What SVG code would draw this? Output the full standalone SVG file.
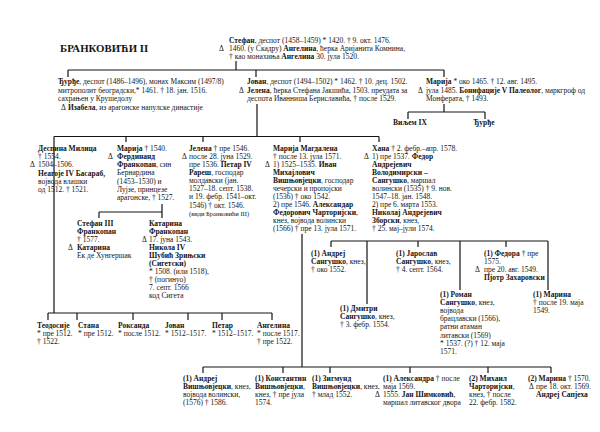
<svg xmlns="http://www.w3.org/2000/svg" width="600" height="432" viewBox="0 0 600 432">
<style>
text{font-family:"Liberation Serif","Times New Roman",serif;font-size:7.5px;fill:#141414}
.b{font-weight:bold}
.title{font-size:10.8px;font-weight:bold}
.sm{font-size:6.5px}
.c path{fill:none;stroke:#141414;stroke-width:1.2}
</style>
<rect width="600" height="432" fill="#fff"/>
<text class="title" x="60" y="52">БРАНКОВИЋИ II</text>

<g class="c" id="connectors">
<path d="M236,61V70M68,70H444M68,70V77M256,70V77M444,70V77"/>
<path d="M444,104V112M408,112H485M408,112V119M485,112V119"/>
<path d="M257,104V136.5M54,136.5H379M54,136.5V313M126,136.5V142M203,136.5V142M300,136.5V142M379,136.5V142"/>
<path d="M162,204V218M99,212H162M99,212V218"/>
<path d="M48,313H272M48,313V320M77,313V320M133,313V320M188,313V320M222,313V320M272,313V320"/>
<path d="M331,241H548M331,241V247M367,241V304M418,241V247M460,241V290M506,241V247M548,241V290"/>
<path d="M302,234V367M203,367H551M203,367V373M283,367V373M330,367V373M410,367V373M488,367V373M551,367V373"/>
</g>

<g id="n-stefan">
<text x="229" y="43"><tspan class="b">Стефан</tspan>, деспот (1458–1459) * 1420. † 9. окт. 1476.</text>
<text x="219" y="51">Δ</text>
<text x="229" y="51">1460. (у Скадру) <tspan class="b">Ангелина</tspan>, ћерка Аријанита Комнина,</text>
<text x="229" y="59">† као монахиња <tspan class="b">Ангелина</tspan> 30. јула 1520.</text>
</g>

<g id="n-djuradj">
<text x="58" y="84"><tspan class="b">Ђурђе</tspan>, деспот (1486–1496), монах Максим (1497/8)</text>
<text x="58" y="93">митрополит београдски,* 1461. † 18. јан. 1516.</text>
<text x="58" y="101">сахрањен у Крушедолу</text>
<text x="61" y="110">Δ</text>
<text x="68" y="110"><tspan class="b">Изабела</tspan>, из арагонске напулске династије</text>
</g>

<g id="n-jovan">
<text x="247" y="84"><tspan class="b">Јован</tspan>, деспот (1494–1502) * 1462. † 10. дец. 1502.</text>
<text x="239" y="93">Δ</text>
<text x="247" y="93"><tspan class="b">Јелена</tspan>, ћерка Стефана Јакшића, 1503. преудата за</text>
<text x="247" y="101">деспота Иванниша Бериславића, † после 1529.</text>
</g>

<g id="n-marija1">
<text x="426" y="84"><tspan class="b">Марија</tspan> * око 1465. † 12. авг. 1495.</text>
<text x="418" y="93">Δ</text>
<text x="426" y="93">јула 1485. <tspan class="b">Бонифације V Палеолог</tspan>, маркгроф од</text>
<text x="426" y="101">Монферата, † 1493.</text>
</g>

<g id="n-viljem"><text class="b" x="410" y="125" text-anchor="middle">Виљем IX</text></g>
<g id="n-djuradj2"><text class="b" x="484" y="125" text-anchor="middle">Ђурђе</text></g>

<g id="n-milica">
<text x="38" y="151" class="b">Деспина Милица</text>
<text x="38" y="159.2">† 1554.</text>
<text x="30" y="167.4">Δ</text>
<text x="38" y="167.4">1504–1506.</text>
<text x="38" y="175.6" class="b">Неагоје IV Басараб,</text>
<text x="38" y="183.8">војвода влашки</text>
<text x="38" y="192">од 1512. † 1521.</text>
</g>

<g id="n-marija2">
<text x="117" y="151"><tspan class="b">Марија</tspan> † 1540.</text>
<text x="108" y="159">Δ</text>
<text x="117" y="159" class="b">Фердинанд</text>
<text x="117" y="167"><tspan class="b">Франкопан</tspan>, син</text>
<text x="117" y="175">Бернардина</text>
<text x="117" y="184">(1453–1530) и</text>
<text x="117" y="192">Лујзе, принцезе</text>
<text x="117" y="200">арагонске, † 1527.</text>
</g>

<g id="n-stefan3">
<text x="77" y="226" class="b">Стефан III</text>
<text x="77" y="234" class="b">Франкопан</text>
<text x="77" y="242">† 1577.</text>
<text x="68" y="250">Δ</text>
<text x="77" y="250" class="b">Катарина</text>
<text x="77" y="258">Ек де Хунгершак</text>
</g>

<g id="n-katarina">
<text x="149" y="226" class="b">Катарина</text>
<text x="149" y="234" class="b">Франкопан</text>
<text x="142" y="242">Δ</text>
<text x="149" y="242">17. јуна 1543.</text>
<text x="149" y="249.5" class="b">Никола IV</text>
<text x="149" y="257.5" class="b">Шубић Зрињски</text>
<text x="149" y="265.5" class="b">(Сигетски)</text>
<text x="149" y="273.7">* 1508. (или 1518),</text>
<text x="149" y="281.9">† (погинуо)</text>
<text x="149" y="290.1">7. септ. 1566</text>
<text x="149" y="298.3">код Сигета</text>
</g>

<g id="n-jelena">
<text x="189" y="151"><tspan class="b">Јелена</tspan> † пре 1546.</text>
<text x="182" y="159">Δ</text>
<text x="189" y="159">после 28. јуна 1529.</text>
<text x="189" y="167">пре 1536. <tspan class="b">Петар IV</tspan></text>
<text x="189" y="175"><tspan class="b">Рареш</tspan>, господар</text>
<text x="189" y="183">молдавски (јан.</text>
<text x="189" y="191.3">1527–18. септ. 1538.</text>
<text x="189" y="199.4">и 19. фебр. 1541–окт.</text>
<text x="189" y="207.5">1546) † окт. 1546.</text>
<text x="189" y="215.5" class="sm">(види Бранковићи III)</text>
</g>

<g id="n-magdalena">
<text x="273" y="151" class="b">Марија Магдалена</text>
<text x="273" y="159">† после 13. јула 1571.</text>
<text x="265" y="167">Δ</text>
<text x="273" y="167">1) 1525–1535. <tspan class="b">Иван</tspan></text>
<text x="273" y="175" class="b">Михајлович</text>
<text x="273" y="183"><tspan class="b">Вишњовјецки</tspan>, господар</text>
<text x="273" y="191">чечерски и пропојски</text>
<text x="273" y="199">(1536) † око 1542.</text>
<text x="273" y="207">2) пре 1546. <tspan class="b">Александар</tspan></text>
<text x="273" y="215"><tspan class="b">Федорович Чарторијски</tspan>,</text>
<text x="273" y="223">кнез, војвода волински</text>
<text x="273" y="231">(1566) † пре 13. јула 1571.</text>
</g>

<g id="n-hana">
<text x="372" y="151"><tspan class="b">Хана</tspan> † 2. фебр.–апр. 1578.</text>
<text x="364" y="159">Δ</text>
<text x="372" y="159">1) пре 1537. <tspan class="b">Федор</tspan></text>
<text x="372" y="167" class="b">Андрејевич</text>
<text x="372" y="175" class="b">Володимирски –</text>
<text x="372" y="183"><tspan class="b">Сангушко</tspan>, маршал</text>
<text x="372" y="191">волински (1535) † 9. нов.</text>
<text x="372" y="199">1547–18. јан. 1548.</text>
<text x="372" y="207">2) пре 6. марта 1553.</text>
<text x="372" y="215" class="b">Николај Андрејевич</text>
<text x="372" y="223"><tspan class="b">Зборски</tspan>, кнез,</text>
<text x="372" y="231">† 25. мај–јули 1574.</text>
</g>

<g id="n-andrej-s">
<text x="311" y="255.5" class="b">(1) Андреј</text>
<text x="311" y="263.7"><tspan class="b">Сангушко</tspan>, кнез,</text>
<text x="311" y="271.9">† око 1552.</text>
</g>
<g id="n-jaroslav">
<text x="396" y="255.5" class="b">(1) Јарослав</text>
<text x="396" y="263.7"><tspan class="b">Сангушко</tspan>, кнез,</text>
<text x="396" y="271.9">† 4. септ. 1564.</text>
</g>
<g id="n-fedora">
<text x="484" y="255.5"><tspan class="b">(1) Федора</tspan> † пре</text>
<text x="484" y="263.7">1575.</text>
<text x="475" y="271.9">Δ</text>
<text x="484" y="271.9">пре 20. авг. 1549.</text>
<text x="484" y="280.1" class="b">Пјотр Захаровски</text>
</g>
<g id="n-dmitri">
<text x="340" y="310.5" class="b">(1) Дмитри</text>
<text x="340" y="318.5"><tspan class="b">Сангушко</tspan>, кнез,</text>
<text x="340" y="326.5">† 3. фебр. 1554.</text>
</g>
<g id="n-roman">
<text x="440" y="296.5" class="b">(1) Роман</text>
<text x="440" y="304.7"><tspan class="b">Сангушко</tspan>, кнез,</text>
<text x="440" y="312.9">војвода</text>
<text x="440" y="321.1">брацлавски (1566),</text>
<text x="440" y="329.3">ратни атаман</text>
<text x="440" y="337.5">литавски (1569)</text>
<text x="440" y="345.7">* 1537. (?) † 12. маја</text>
<text x="440" y="353.9">1571.</text>
</g>
<g id="n-marina1">
<text x="533" y="296.5" class="b">(1) Марина</text>
<text x="533" y="304.7">† после 19. маја</text>
<text x="533" y="312.9">1549.</text>
</g>

<g id="n-teodosije">
<text x="37" y="327.5" class="b">Теодосије</text>
<text x="37" y="335.7">* пре 1512.</text>
<text x="37" y="343.9">† 1522.</text>
</g>
<g id="n-stana">
<text x="78" y="327.5" class="b">Стана</text>
<text x="78" y="335.7">* пре 1512.</text>
</g>
<g id="n-roksanda">
<text x="118" y="327.5" class="b">Роксанда</text>
<text x="118" y="335.7">* после 1512.</text>
</g>
<g id="n-jovan2">
<text x="165" y="327.5" class="b">Јован</text>
<text x="165" y="335.7">* 1512–1517.</text>
</g>
<g id="n-petar">
<text x="212" y="327.5" class="b">Петар</text>
<text x="212" y="335.7">* 1512–1517.</text>
</g>
<g id="n-angelina">
<text x="257" y="327.5" class="b">Ангелина</text>
<text x="257" y="335.7">* после 1517.</text>
<text x="257" y="343.9">† пре 1522.</text>
</g>

<g id="n-andrej-v">
<text x="183" y="380.5" class="b">(1) Андреј</text>
<text x="183" y="388.7"><tspan class="b">Вишњовјецки</tspan>, кнез,</text>
<text x="183" y="396.9">војвода волински,</text>
<text x="183" y="405.1">(1576) † 1586.</text>
</g>
<g id="n-konstantin">
<text x="255" y="380.5" class="b">(1) Константин</text>
<text x="255" y="388.7"><tspan class="b">Вишњовјецки</tspan>,</text>
<text x="255" y="396.9">кнез, † пре јула</text>
<text x="255" y="405.1">1574.</text>
</g>
<g id="n-zigmund">
<text x="312" y="380.5" class="b">(1) Зигмунд</text>
<text x="312" y="388.7"><tspan class="b">Вишњовјецки</tspan>, кнез,</text>
<text x="312" y="396.9">† млад 1552.</text>
</g>
<g id="n-aleksandra">
<text x="383" y="380.5"><tspan class="b">(1) Александра</tspan> † после</text>
<text x="383" y="388.7">маја 1569.</text>
<text x="375" y="396.9">Δ</text>
<text x="383" y="396.9">1555. <tspan class="b">Јан Шимковић</tspan>,</text>
<text x="383" y="405.1">маршал литавског двора</text>
</g>
<g id="n-mihail">
<text x="469" y="380.5" class="b">(2) Михаил</text>
<text x="469" y="388.7"><tspan class="b">Чарторијски</tspan>,</text>
<text x="469" y="396.9">кнез, † после</text>
<text x="469" y="405.1">22. фебр. 1582.</text>
</g>
<g id="n-marina2">
<text x="528" y="380.5"><tspan class="b">(2) Марина</tspan> † 1570.</text>
<text x="529" y="388.7">Δ</text>
<text x="536" y="388.7">пре 18. окт. 1569.</text>
<text x="536" y="396.9" class="b">Андреј Сапјеха</text>
</g>
</svg>
